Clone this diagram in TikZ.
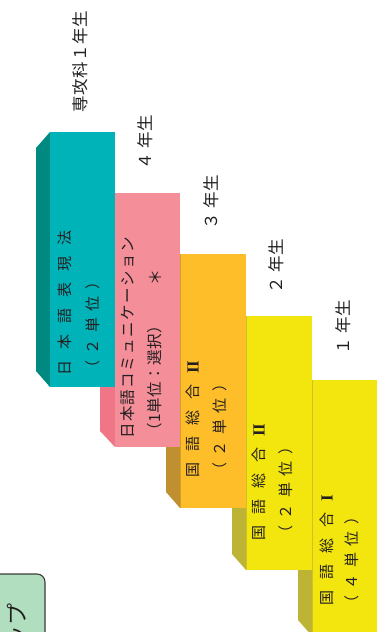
\documentclass[tikz,border=0pt]{standalone}
\usepackage{fontspec}
\setmainfont{Noto Sans CJK JP}
\newfontfamily\romfont{Liberation Serif}
\ExplSyntaxOn
\NewDocumentCommand\spc{O{0pt}m}{\tl_map_inline:nn{#2}{##1\kern#1\relax}}
\ExplSyntaxOff
\newcommand\romII{{\romfont\bfseries\fontsize{17}{18}\selectfont II}}
\newcommand\romI{{\romfont\bfseries\fontsize{17}{18}\selectfont I}}
\definecolor{tealF}{RGB}{0,179,185}
\definecolor{tealS}{RGB}{0,137,128}
\definecolor{pinkF}{RGB}{244,142,153}
\definecolor{pinkS}{RGB}{240,118,135}
\definecolor{orgF}{RGB}{253,190,42}
\definecolor{orgS}{RGB}{192,143,48}
\definecolor{yelF}{RGB}{242,230,14}
\definecolor{yelS}{RGB}{189,180,53}
\definecolor{grnF}{RGB}{178,222,192}
\definecolor{grnD}{RGB}{60,60,60}
\definecolor{txt}{RGB}{35,31,32}
\tikzset{
  lbl/.style={rotate=90, anchor=west, inner sep=0pt, text=txt, font=\fontsize{16.5}{18}\selectfont},
  btxt/.style={rotate=90, anchor=west, inner sep=0pt, text=txt, font=\fontsize{15}{17}\selectfont},
  ptxt/.style={rotate=90, anchor=west, inner sep=0pt, text=txt, font=\fontsize{15.5}{17}\selectfont},
  edgeln/.style={line width=0.8pt},
}
\begin{document}
\begin{tikzpicture}[x=1pt,y=-1pt]
\useasboundingbox (0,0) rectangle (377,632);
\clip (0,0) rectangle (377,632);
% side faces
\fill[tealS] (36,148) -- (50,132) -- (50,387) -- (36,371) -- cycle;
\fill[pinkS] (100,209) -- (115,193) -- (115,447) -- (100,431) -- cycle;
\fill[orgS] (166,270) -- (180,254) -- (180,508) -- (166,492) -- cycle;
\fill[yelS] (232,332) -- (246,316) -- (246,570) -- (232,554) -- cycle;
\fill[yelS] (298,396) -- (312,380) -- (312,636) -- (298,620) -- cycle;
% front faces
\fill[tealF] (50,132) rectangle (115,387);
\fill[pinkF] (115,193) rectangle (180,447);
\fill[orgF] (180,254) rectangle (246,508);
\fill[yelF] (246,316) rectangle (312,570);
\fill[yelF] (312,380) rectangle (385,640);
\draw[edgeln, orgS!70!orgF] (180.4,254) -- (180.4,508);
\draw[edgeln, yelS!70!yelF] (246.4,316) -- (246.4,570);
\draw[edgeln, yelS!70!yelF] (312.4,380) -- (312.4,636);
% green box
\draw[draw=grnD, line width=1.1pt, fill=grnF, rounded corners=8pt] (-10,574) rectangle (45,660);
\node[rotate=90, anchor=east, inner sep=0pt, text=txt, font=\fontsize{22}{24}\selectfont] (g) at (17,603) {ップ};
% year labels
\node[lbl] (l0) at (80,113) {\spc[0.5pt]{専攻科１年生}};
\node[lbl] (l4) at (145,170) {４\kern5pt年生};
\node[lbl] (l3) at (211,230) {３\kern5pt年生};
\node[lbl] (l2) at (276,294) {２\kern5pt年生};
\node[lbl] (l1) at (343,355) {１\kern5pt年生};
% box texts
\node[btxt] (t1a) at (65,376) {\spc[11pt]{日本語表現法}};
\node[btxt] (t1b) at (93,376) {\spc[6.5pt]{（２単位）}};
\node[ptxt] (t2a) at (128,439) {\spc[1.4pt]{日本語コミュニケーション}};
\node[ptxt] (t2b) at (155,439) {\spc[0.5pt]{（1単位：選択）}};
\node[rotate=90, inner sep=0pt, text=txt, font=\fontsize{16}{17}\selectfont] (t2c) at (155,277) {＊};
\node[btxt] (t3a) at (193,478) {\spc[11pt]{国語総合}\romII};
\node[btxt] (t3b) at (220,478) {\spc[6.5pt]{（２単位）}};
\node[btxt] (t4a) at (259,541) {\spc[11pt]{国語総合}\romII};
\node[btxt] (t4b) at (286,541) {\spc[6.5pt]{（２単位）}};
\node[btxt] (t5a) at (327,606) {\spc[11pt]{国語総合}\romI};
\node[btxt] (t5b) at (352,611) {\spc[6.5pt]{（４単位）}};
\end{tikzpicture}
\end{document}
